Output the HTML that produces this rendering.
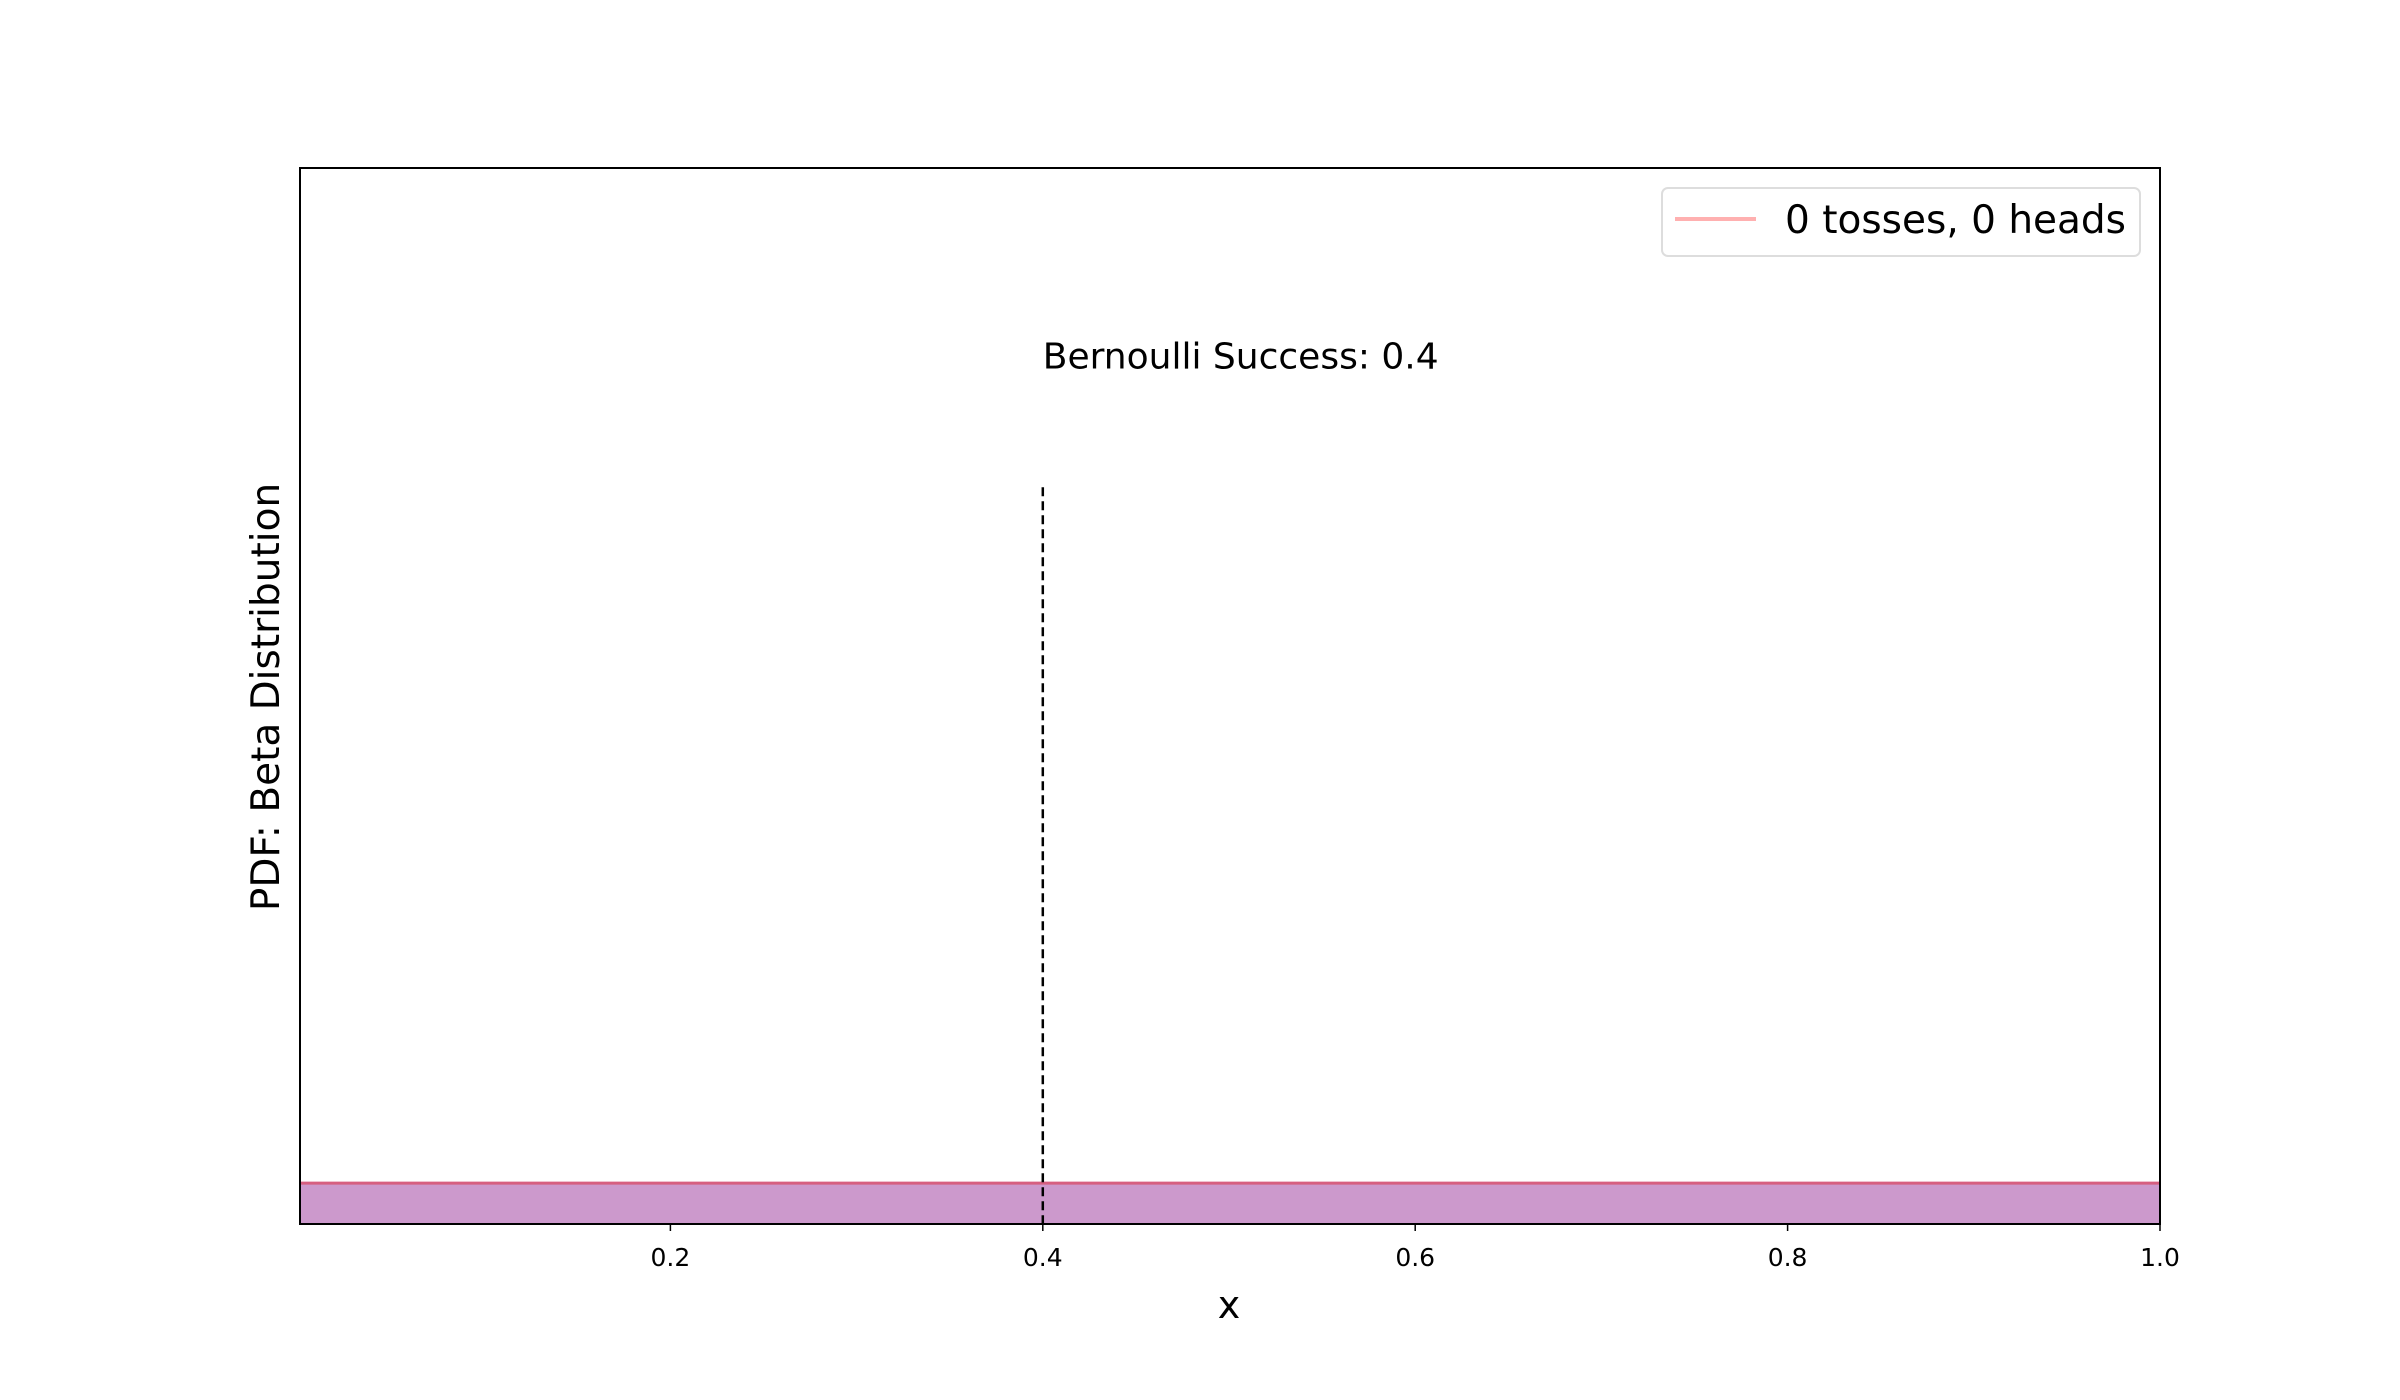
<!DOCTYPE html>
<html><head><meta charset="utf-8"><style>
html,body{margin:0;padding:0;background:#fff;}
svg{display:block;font-family:"DejaVu Sans","Liberation Sans",sans-serif;}
</style></head><body>
<svg id="chart" width="2400" height="1400" viewBox="0 0 2400 1400" xmlns="http://www.w3.org/2000/svg">
<rect width="2400" height="1400" fill="#fff"/>
<g id="plot"></g>
<rect x="300" y="168" width="1860" height="1056" fill="none" stroke="#000" stroke-width="2"/>
<g id="ticks"></g>
<text x="1229" y="1318" font-size="38" text-anchor="middle">x</text>
<text transform="translate(279,697) rotate(-90)" font-size="39" text-anchor="middle">PDF: Beta Distribution</text>
<text id="annot" font-size="36">Bernoulli Success: 0.4</text>
<g>
<rect x="1662" y="188" width="478" height="68" rx="6" fill="#fff" stroke="#ddd" stroke-width="2"/>
<line x1="1675" y1="219" x2="1756" y2="219" stroke="#ffb0b0" stroke-width="4"/>
<text x="1785" y="233" font-size="39">0 tosses, 0 heads</text>
</g>
</svg>
<script>
const xTicks = [0.2, 0.4, 0.6, 0.8, 1.0];
const xTickLabels = ["0.2", "0.4", "0.6", "0.8", "1.0"];
const xs = [0.0, 0.25, 0.5, 0.75, 1.0];
const pdfValues = [1, 1, 1, 1, 1];
const successP = [0.4];
const successLineTop = [18];
const annotationPos = [0.4, 20.9];

const X0=298, X1=2160, Y0=1224, Y1=168, xmin=0, xmax=1, ymin=0, ymax=25.8;
function sx(v){return X0+(v-xmin)/(xmax-xmin)*(X1-X0);}
function sy(v){return Y0-(v-ymin)/(ymax-ymin)*(Y0-Y1);}
const NS="http://www.w3.org/2000/svg";
const plot=document.getElementById('plot');
function mk(tag,attrs,parent){const e=document.createElementNS(NS,tag);for(const k in attrs)e.setAttribute(k,attrs[k]);parent.appendChild(e);return e;}

let d=`M${Math.max(sx(xs[0]),300)},${sy(0)}`;
xs.forEach((x,i)=>{d+=` L${Math.max(sx(x),300)},${sy(pdfValues[i])}`;});
d+=` L${sx(xs[xs.length-1])},${sy(0)} Z`;
const area=mk('path',{d:d,fill:'#cc99cc'},plot);



const pts=xs.map((x,i)=>`${Math.max(sx(x),300)},${sy(pdfValues[i])}`).join(' ');
const line=mk('polyline',{points:pts,fill:'none',stroke:'#d65f80','stroke-width':3},plot);



const vl=mk('line',{x1:sx(successP[0]),x2:sx(successP[0]),y1:sy(successLineTop[0]),y2:sy(0),stroke:'#000','stroke-width':2.5,'stroke-dasharray':'9,5'},plot);



const an=document.getElementById('annot');
an.setAttribute('x',sx(annotationPos[0]));
an.setAttribute('y',sy(annotationPos[1]));

const tg=document.getElementById('ticks');
xTicks.forEach((t,i)=>{
  const tk=mk('line',{x1:sx(t),x2:sx(t),y1:Y0,y2:Y0+7,stroke:'#000','stroke-width':1.5},tg);
  
  
  const lb=mk('text',{x:sx(t),y:Y0+42,'font-size':25,'text-anchor':'middle'},tg);
  lb.textContent=xTickLabels[i];
  
  
});
</script>
</body></html>
